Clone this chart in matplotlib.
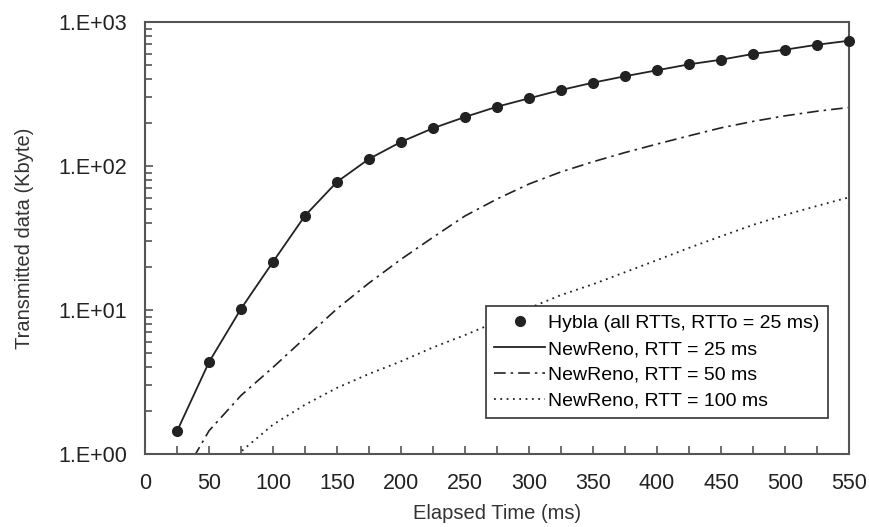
import math
import matplotlib
matplotlib.use("Agg")
import matplotlib.pyplot as plt
from matplotlib.ticker import FixedLocator, LogLocator, NullFormatter, FuncFormatter

# Hybla (all RTTs, RTTo = 25 ms) - sampled every 25 ms
hybla_t = [25, 50, 75, 100, 125, 150, 175, 200, 225, 250, 275,
           300, 325, 350, 375, 400, 425, 450, 475, 500, 525, 550]
hybla_kb = [1.44, 4.35, 10.2, 21.6, 45.2, 77.6, 112, 147, 183, 219, 258,
            295, 337, 379, 420, 462, 508, 547, 600, 642, 695, 741]

# NewReno, RTT = 25 ms (overlaps Hybla)
reno25_t = hybla_t
reno25_kb = hybla_kb

# NewReno, RTT = 50 ms
reno50_t = [38, 50, 75, 100, 125, 150, 175, 200, 225, 250, 275,
            300, 325, 350, 375, 400, 425, 450, 475, 500, 525, 550]
reno50_kb = [0.95, 1.45, 2.55, 4.0, 6.4, 10.2, 15.4, 22.5, 32, 45, 59,
             75, 91, 107, 124, 142, 162, 184, 204, 223, 240, 255]

# NewReno, RTT = 100 ms
reno100_t = [73, 75, 100, 125, 150, 175, 200, 225, 250, 275, 300,
             325, 350, 375, 400, 425, 450, 475, 500, 525, 550]
reno100_kb = [0.97, 1.04, 1.6, 2.2, 2.88, 3.6, 4.4, 5.5, 6.7, 8.3, 10.3,
              12.7, 15.1, 18.3, 22.2, 27.0, 32.5, 39.0, 45.7, 52.8, 60.6]

plt.rcParams["font.family"] = ["Liberation Sans", "DejaVu Sans"]
ink = "#222222"
frame = "#555555"

fig = plt.figure(figsize=(8.7, 5.27), dpi=100)
ax = fig.add_axes([0.1667, 0.1385, 0.8092, 0.8198])

ax.plot(reno25_t, reno25_kb, color=ink, lw=1.3, label="NewReno, RTT = 25 ms", zorder=3)
ax.plot(hybla_t, hybla_kb, "o", color=ink, ms=7, label="Hybla (all RTTs, RTTo = 25 ms)",
        zorder=4, clip_on=False)
ax.plot(reno50_t, reno50_kb, color=ink, lw=1.2, ls=(0, (7, 3, 1.5, 3)),
        label="NewReno, RTT = 50 ms")
ax.plot(reno100_t, reno100_kb, color=ink, lw=1.3, ls=(0, (1, 2.5)),
        label="NewReno, RTT = 100 ms")

ax.set_yscale("log")
ax.set_xlim(0, 550)
ax.set_ylim(1, 1000)

ax.xaxis.set_major_locator(FixedLocator(range(0, 551, 50)))
ax.xaxis.set_minor_locator(FixedLocator(range(25, 551, 50)))
ax.yaxis.set_major_locator(LogLocator(base=10, numticks=10))
ax.yaxis.set_minor_locator(LogLocator(base=10, subs=range(2, 10), numticks=10))
ax.yaxis.set_minor_formatter(NullFormatter())
ax.yaxis.set_major_formatter(FuncFormatter(lambda v, p: "1.E+%02d" % round(math.log10(v))))

ax.tick_params(which="both", direction="in", color=frame, width=1.2, labelsize=15.5,
               labelcolor=ink, top=False, right=False)
ax.tick_params(axis="y", which="major", length=6, pad=13)
ax.tick_params(axis="x", which="major", length=6, pad=14)
ax.tick_params(axis="x", which="minor", length=6)
ax.tick_params(axis="y", which="minor", length=5)

for s in ax.spines.values():
    s.set_color(frame)
    s.set_linewidth(1.5)

ax.set_xlabel("Elapsed Time (ms)", fontsize=14.5, color="#333333", labelpad=7)
ax.set_ylabel("Transmitted data (Kbyte)", fontsize=14.5, color="#333333", labelpad=17)

handles, labels = ax.get_legend_handles_labels()
order = [1, 0, 2, 3]
leg = ax.legend([handles[i] for i in order], [labels[i] for i in order],
                loc="lower right", bbox_to_anchor=(0.984, 0.06), fontsize=14,
                fancybox=False, edgecolor="#333333", framealpha=1,
                handlelength=2.6, handletextpad=0.15, borderpad=0.45, labelspacing=0.42)
leg.get_frame().set_linewidth(1.2)

plt.savefig("out.png", dpi=100)
